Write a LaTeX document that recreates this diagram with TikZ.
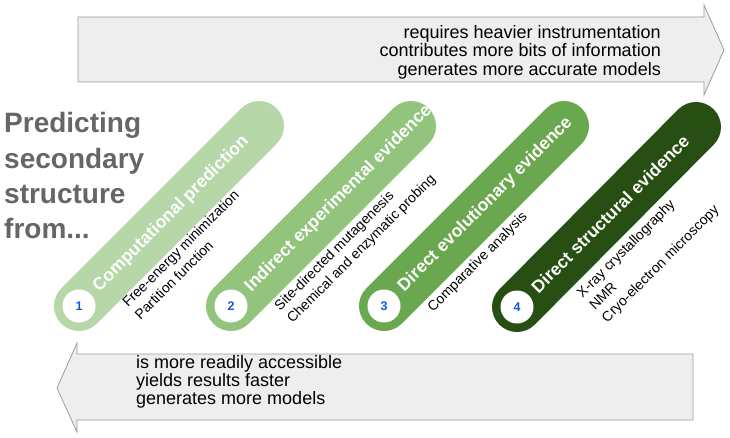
\documentclass[tikz,border=0pt]{standalone}
\usepackage{fontspec}
\setmainfont{Liberation Sans}
\usetikzlibrary{calc}
\definecolor{pillA}{HTML}{B6D7A8}
\definecolor{pillB}{HTML}{93C47D}
\definecolor{pillC}{HTML}{6AA84F}
\definecolor{pillD}{HTML}{274E13}
\definecolor{numblue}{HTML}{1558D6}
\definecolor{titlegray}{HTML}{666666}
\definecolor{arrowfill}{HTML}{EEEEEE}
\definecolor{arrowline}{HTML}{9E9E9E}
\begin{document}
\begin{tikzpicture}[x=1pt,y=-1pt,
  pill/.style={line width=50pt, line cap=round},
  numdot/.style={circle, fill=white, minimum size=33pt, inner sep=0pt, text=numblue, font=\fontsize{12.5}{12.5}\selectfont\bfseries},
  pilllabel/.style={rotate=45, anchor=west, inner sep=0pt, text=white, font=\fontsize{17.5}{17.5}\selectfont\bfseries},
  desc/.style={rotate=45, anchor=base west, inner sep=0pt, font=\fontsize{14}{17.5}\selectfont},
  bigarrow/.style={fill=arrowfill, draw=arrowline, line width=0.8pt, line join=miter},
  arrowtext/.style={inner sep=0pt, font=\fontsize{18}{18}\selectfont},
  titletext/.style={inner sep=0pt, text=titlegray, font=\fontsize{28}{35.3}\selectfont\bfseries}]

\useasboundingbox (0,0) rectangle (730,438);
\fill[white] (0,0) rectangle (730,438);

% big arrows
\draw[bigarrow] (78,17) -- (704,17) -- (704,5) -- (724,50) -- (704,95) -- (704,82) -- (78,82) -- cycle;
\draw[bigarrow] (693,354) -- (77,354) -- (77,343) -- (57,388) -- (77,432) -- (77,420) -- (693,420) -- cycle;

\node[arrowtext, anchor=base east] (uptext) at (661,38.5)
  {\begin{tabular}[t]{@{}r@{}}requires heavier instrumentation\\contributes more bits of information\\generates more accurate models\end{tabular}};
\node[arrowtext, anchor=base west] (downtext) at (136,368)
  {\begin{tabular}[t]{@{}l@{}}is more readily accessible\\yields results faster\\generates more models\end{tabular}};

% title
\node[titletext, anchor=base west] (title) at (4,133)
  {\begin{tabular}[t]{@{}l@{}}Predicting\\secondary\\structure\\from...\end{tabular}};

% pills
\coordinate (p1s) at (79,306);  \coordinate (p1e) at (259,126);
\coordinate (p2s) at (231,306); \coordinate (p2e) at (411,126);
\coordinate (p3s) at (384,306); \coordinate (p3e) at (564,126);
\coordinate (p4s) at (517,307); \coordinate (p4e) at (696,127);

\draw[pill, pillA] (p1s) -- (p1e);
\draw[pill, pillB] (p2s) -- (p2e);
\draw[pill, pillC] (p3s) -- (p3e);
\draw[pill, pillD] (p4s) -- (p4e);

\node[numdot] (n1) at (p1s) {1};
\node[numdot] (n2) at (p2s) {2};
\node[numdot] (n3) at (p3s) {3};
\node[numdot] (n4) at (p4s) {4};

\node[pilllabel] (l1) at ($(n1.center)+(17,-17)$) {Computational prediction};
\node[pilllabel] (l2) at ($(n2.center)+(17,-17)$) {Indirect experimental evidence};
\node[pilllabel] (l3) at ($(n3.center)+(17,-17)$) {Direct evolutionary evidence};
\node[pilllabel] (l4) at ($(n4.center)+(17,-17)$) {Direct structural evidence};

\node[desc] (d1) at ($(n1.center)+(49,2)$)
  {\begin{tabular}[t]{@{}l@{}}Free-energy minimization\\Partition function\end{tabular}};
\node[desc] (d2) at ($(n2.center)+(49,5.5)$)
  {\begin{tabular}[t]{@{}l@{}}Site-directed mutagenesis\\Chemical and enzymatic probing\end{tabular}};
\node[desc] (d3) at ($(n3.center)+(49,6.5)$)
  {\begin{tabular}[t]{@{}l@{}}Comparative analysis\end{tabular}};
\node[desc] (d4) at ($(n4.center)+(65.5,-8.5)$)
  {\begin{tabular}[t]{@{}l@{}}X-ray crystallography\\NMR\\Cryo-electron microscopy\end{tabular}};
\end{tikzpicture}
\end{document}
